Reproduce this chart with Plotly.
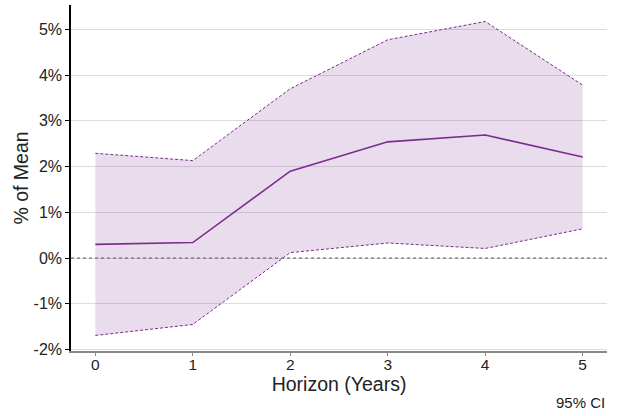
import plotly.graph_objects as go

horizon = [0, 1, 2, 3, 4, 5]
estimate = [0.30, 0.34, 1.90, 2.54, 2.69, 2.21]
upper = [2.29, 2.13, 3.70, 4.77, 5.17, 3.78]
lower = [-1.69, -1.45, 0.12, 0.33, 0.21, 0.64]

y_tickvals = [-2, -1, 0, 1, 2, 3, 4, 5]
y_ticktext = ["-2%", "-1%", "0%", "1%", "2%", "3%", "4%", "5%"]
x_tickvals = [0, 1, 2, 3, 4, 5]

purple = "#7B2D8E"
fill = "rgba(123,45,142,0.17)"
font = "Liberation Sans, Arial, Helvetica, sans-serif"

fig = go.Figure()
fig.add_trace(go.Scatter(x=horizon, y=lower, mode="lines",
                         line=dict(color=purple, width=1, dash="3px,2px"),
                         hoverinfo="skip", showlegend=False))
fig.add_trace(go.Scatter(x=horizon, y=upper, mode="lines",
                         line=dict(color=purple, width=1, dash="3px,2px"),
                         fill="tonexty", fillcolor=fill,
                         hoverinfo="skip", showlegend=False))
fig.add_trace(go.Scatter(x=horizon, y=estimate, mode="lines",
                         line=dict(color=purple, width=1.6),
                         showlegend=False))

fig.add_hline(y=0, line=dict(color="#555555", width=1, dash="3px,3px"), layer="above")

fig.update_layout(
    width=618, height=416,
    margin=dict(l=71, r=11, t=5, b=65, autoexpand=False),
    paper_bgcolor="white", plot_bgcolor="white",
    font=dict(family=font, color="#222222"),
    xaxis=dict(range=[-0.25, 5.25], tickvals=x_tickvals, automargin=False,
               showgrid=False, zeroline=False,
               showline=True, linecolor="#888888", linewidth=2,
               ticks="outside", ticklen=3, tickcolor="#888888",
               ticklabelstandoff=-5,
               tickfont=dict(size=15.5, family=font, color="#222222"),
               title=dict(text="Horizon (Years)", font=dict(size=19.5, family=font),
                          standoff=2)),
    yaxis=dict(range=[-2.03, 5.53], tickvals=y_tickvals, ticktext=y_ticktext,
               automargin=False,
               showgrid=True, gridcolor="#DCDCDC", gridwidth=1, zeroline=False,
               showline=True, linecolor="black", linewidth=1.5,
               ticks="outside", ticklen=4, tickcolor="black",
               tickfont=dict(size=16, family=font, color="#222222"),
               title=dict(text="% of Mean", font=dict(size=19.5, family=font),
                          standoff=0)),
)

fig.add_annotation(text="95% CI", xref="paper", yref="paper", x=1, y=-0.148,
                   xanchor="right", yanchor="middle", showarrow=False,
                   font=dict(size=15, family=font, color="#222222"))

fig.write_html("out.html", config={"displayModeBar": False},
               post_script="document.body.style.margin='0';document.body.style.overflow='hidden';")
